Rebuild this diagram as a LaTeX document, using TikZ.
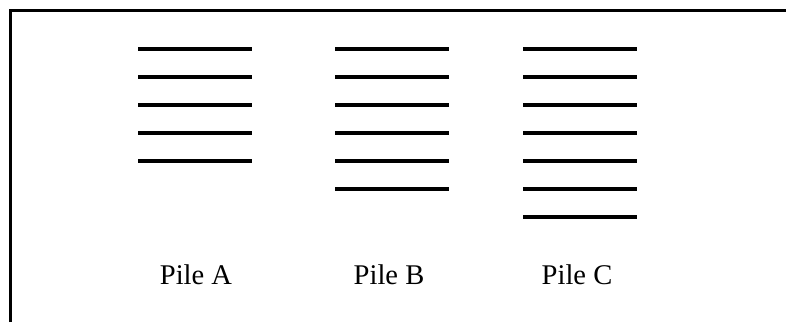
\documentclass[tikz,border=0pt]{standalone}
\usepackage{fontspec}
\setmainfont{Liberation Serif}
\begin{document}
\begin{tikzpicture}[x=0.75pt,y=-0.75pt,
  frame/.style={line width=1.6pt,black},
  slab/.style={line width=2.7pt,black},
  label/.style={font=\fontsize{21.4pt}{24pt}\selectfont,anchor=base,inner sep=0pt}]
  \useasboundingbox (0,0) rectangle (786,322);
  % open frame: top and left edges
  \draw[frame] (10.5,322) -- (10.5,10.5) -- (786,10.5);
  % pile A: 5 slabs
  \foreach \i in {0,...,4}
    \draw[slab] (138,49+28*\i) -- (252,49+28*\i);
  % pile B: 6 slabs
  \foreach \i in {0,...,5}
    \draw[slab] (335,49+28*\i) -- (449,49+28*\i);
  % pile C: 7 slabs
  \foreach \i in {0,...,6}
    \draw[slab] (523,49+28*\i) -- (637,49+28*\i);
  % labels
  \node[label] (pa) at (196,284) {Pile A};
  \node[label] (pb) at (389,284) {Pile B};
  \node[label] (pc) at (577,284) {Pile C};
\end{tikzpicture}
\end{document}
